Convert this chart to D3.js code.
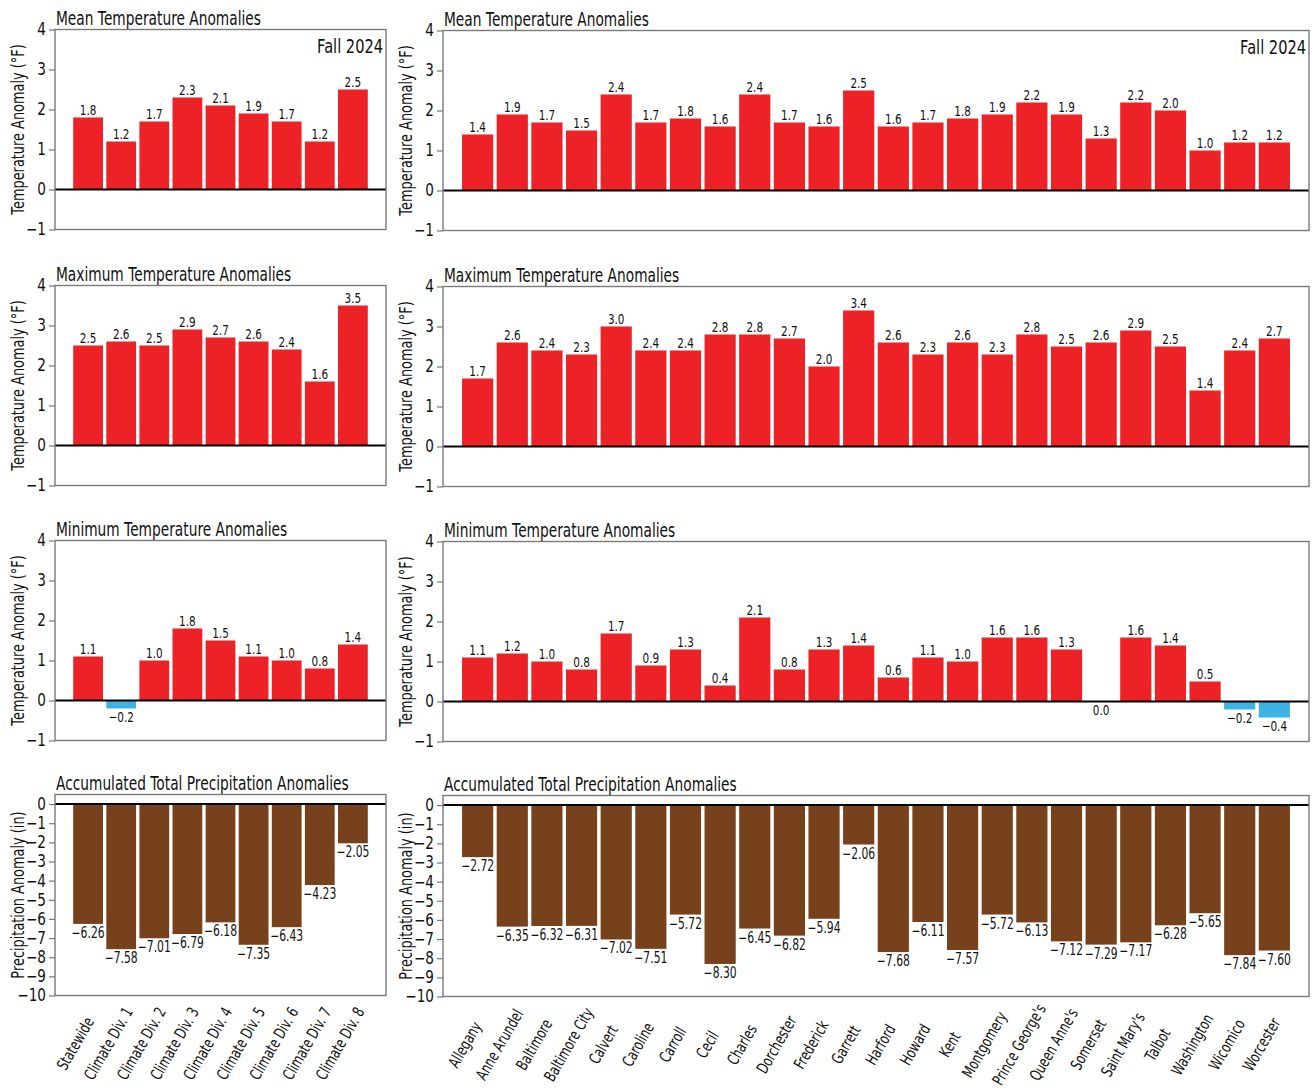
<!DOCTYPE html>
<html>
<head>
<meta charset="utf-8">
<script src="https://cdn.jsdelivr.net/npm/d3@7"></script>
<style>
  html, body { margin: 0; padding: 0; background: #fff; }
  svg { display: block; }
  text { font-family: "DejaVu Sans", "Liberation Sans", sans-serif; fill: #111; }
</style>
</head>
<body>
<svg id="chart" width="1314" height="1089"></svg>
<script>
// Maryland seasonal anomalies, Fall 2024
const divisions = ["Statewide", "Climate Div. 1", "Climate Div. 2", "Climate Div. 3", "Climate Div. 4",
  "Climate Div. 5", "Climate Div. 6", "Climate Div. 7", "Climate Div. 8"];
const counties = ["Allegany", "Anne Arundel", "Baltimore", "Baltimore City", "Calvert", "Caroline", "Carroll",
  "Cecil", "Charles", "Dorchester", "Frederick", "Garrett", "Harford", "Howard", "Kent", "Montgomery",
  "Prince George's", "Queen Anne's", "Somerset", "Saint Mary's", "Talbot", "Washington", "Wicomico", "Worcester"];

const divMean   = [1.8, 1.2, 1.7, 2.3, 2.1, 1.9, 1.7, 1.2, 2.5];
const divMax    = [2.5, 2.6, 2.5, 2.9, 2.7, 2.6, 2.4, 1.6, 3.5];
const divMin    = [1.1, -0.2, 1.0, 1.8, 1.5, 1.1, 1.0, 0.8, 1.4];
const divPrecip = [-6.26, -7.58, -7.01, -6.79, -6.18, -7.35, -6.43, -4.23, -2.05];

const cntyMean   = [1.4, 1.9, 1.7, 1.5, 2.4, 1.7, 1.8, 1.6, 2.4, 1.7, 1.6, 2.5, 1.6, 1.7, 1.8, 1.9, 2.2, 1.9, 1.3, 2.2, 2.0, 1.0, 1.2, 1.2];
const cntyMax    = [1.7, 2.6, 2.4, 2.3, 3.0, 2.4, 2.4, 2.8, 2.8, 2.7, 2.0, 3.4, 2.6, 2.3, 2.6, 2.3, 2.8, 2.5, 2.6, 2.9, 2.5, 1.4, 2.4, 2.7];
const cntyMin    = [1.1, 1.2, 1.0, 0.8, 1.7, 0.9, 1.3, 0.4, 2.1, 0.8, 1.3, 1.4, 0.6, 1.1, 1.0, 1.6, 1.6, 1.3, 0.0, 1.6, 1.4, 0.5, -0.2, -0.4];
const cntyPrecip = [-2.72, -6.35, -6.32, -6.31, -7.02, -7.51, -5.72, -8.30, -6.45, -6.82, -5.94, -2.06, -7.68, -6.11, -7.57, -5.72, -6.13, -7.12, -7.29, -7.17, -6.28, -5.65, -7.84, -7.60];

const tempTicks   = [-1, 0, 1, 2, 3, 4];
const precipTicks = [0, -1, -2, -3, -4, -5, -6, -7, -8, -9, -10];

const seasonLabel = "Fall 2024";
const titles = ["Mean Temperature Anomalies", "Maximum Temperature Anomalies",
  "Minimum Temperature Anomalies", "Accumulated Total Precipitation Anomalies"];
const tempYLabel = "Temperature Anomaly (°F)";
const precipYLabel = "Precipitation Anomaly (in)";

const COLORS = { warm: "#ec2227", cool: "#3db2e3", precip: "#77421b", frame: "#7a7a7a" };

const svg = d3.select("#chart");

// Narrow lettering: each label is drawn at the origin and placed by transform,
// squeezed horizontally to get a condensed face.
function label(parent, { x, y, rotate = 0, sx = 0.75, size, anchor = "start", baseline = null, text }) {
  const t = parent.append("text")
    .attr("transform", `translate(${x},${y}) rotate(${rotate}) scale(${sx},1)`)
    .attr("text-anchor", anchor)
    .attr("font-size", size)
    .text(text);
  if (baseline) t.attr("dominant-baseline", baseline);
  return t;
}

const columns = [
  { x0: 55, x1: 386, dy: 0, cats: divisions, series: [divMean, divMax, divMin, divPrecip] },
  { x0: 443, x1: 1309, dy: 1, cats: counties, series: [cntyMean, cntyMax, cntyMin, cntyPrecip] }
];
const rows = [
  { top: 29.5, bottom: 229.5, domain: [-1, 4], ticks: tempTicks, ylabel: tempYLabel, kind: "temp" },
  { top: 285.5, bottom: 485.5, domain: [-1, 4], ticks: tempTicks, ylabel: tempYLabel, kind: "temp" },
  { top: 540.5, bottom: 740.5, domain: [-1, 4], ticks: tempTicks, ylabel: tempYLabel, kind: "temp" },
  { top: 794.5, bottom: 995.5, domain: [-10, 0.5], ticks: precipTicks, ylabel: precipYLabel, kind: "precip" }
];

const fmt = (v, digits) => {
  const s = Math.abs(v).toFixed(digits);
  return v < 0 ? "\u2212" + s : s;
};

columns.forEach((col) => {
  const x = d3.scaleBand().domain(col.cats).range([col.x0, col.x1])
    .paddingInner(0.1).paddingOuter(0.55);

  rows.forEach((row, ri) => {
    const top = row.top + col.dy, bottom = row.bottom + col.dy;
    const values = col.series[ri];
    const y = d3.scaleLinear().domain(row.domain).range([bottom, top]);
    const g = svg.append("g");
    const data = col.cats.map((c, i) => ({ cat: c, v: values[i] }));
    const isPrecip = row.kind === "precip";

    // bars
    g.selectAll("rect.bar").data(data).join("rect")
      .attr("class", "bar")
      .attr("x", d => x(d.cat))
      .attr("width", x.bandwidth())
      .attr("y", d => y(Math.max(0, d.v)))
      .attr("height", d => Math.abs(y(d.v) - y(0)))
      .attr("fill", d => isPrecip ? COLORS.precip : (d.v >= 0 ? COLORS.warm : COLORS.cool));

    // value labels
    const digits = isPrecip ? 2 : 1;
    data.forEach(d => {
      label(g, {
        x: x(d.cat) + x.bandwidth() / 2,
        y: d.v > 0 ? y(d.v) - 2.5 : y(Math.min(0, d.v)) + (isPrecip ? 14 : 13),
        sx: 0.72,
        size: isPrecip ? 15 : 14.5,
        anchor: "middle",
        text: fmt(d.v, digits)
      });
    });

    // zero line
    g.append("line")
      .attr("x1", col.x0).attr("x2", col.x1)
      .attr("y1", y(0)).attr("y2", y(0))
      .attr("stroke", "#000").attr("stroke-width", 2);

    // frame
    g.append("rect")
      .attr("x", col.x0).attr("y", top)
      .attr("width", col.x1 - col.x0).attr("height", bottom - top)
      .attr("fill", "none").attr("stroke", COLORS.frame).attr("stroke-width", 1.4);

    // y axis
    const tsx = 0.8;
    const axis = d3.axisLeft(y).tickValues(row.ticks).tickSize(6).tickPadding(3)
      .tickFormat(v => fmt(v, 0));
    const ag = g.append("g").attr("transform", `translate(${col.x0},0)`).call(axis);
    ag.select(".domain").remove();
    ag.selectAll(".tick line").attr("stroke", COLORS.frame).attr("stroke-width", 1.2);
    ag.selectAll(".tick text")
      .attr("font-size", 17).attr("fill", "#222")
      .attr("x", -9 / tsx)
      .attr("transform", `scale(${tsx},1)`)
      .style("font-family", "\"DejaVu Sans\", sans-serif");

    // y axis title
    label(g, {
      x: col.x0 - 37, y: (top + bottom) / 2, rotate: -90, sx: 0.76,
      size: 17, anchor: "middle", baseline: "central", text: row.ylabel
    });

    // panel title
    label(g, { x: col.x0 + 1, y: top - 5, sx: 0.706, size: 19.5, text: titles[ri] });

    if (ri === 0) {
      label(g, { x: col.x1 - 3, y: top + 23, sx: 0.73, size: 20, anchor: "end", text: seasonLabel });
    }

    // category labels under the bottom panel
    if (isPrecip) {
      col.cats.forEach(c => {
        label(g, {
          x: x(c) + x.bandwidth() / 2 - 13, y: bottom + 48, rotate: -60, sx: 0.72,
          size: 16, anchor: "middle", baseline: "central", text: c
        });
      });
    }
  });
});
</script>
</body>
</html>
